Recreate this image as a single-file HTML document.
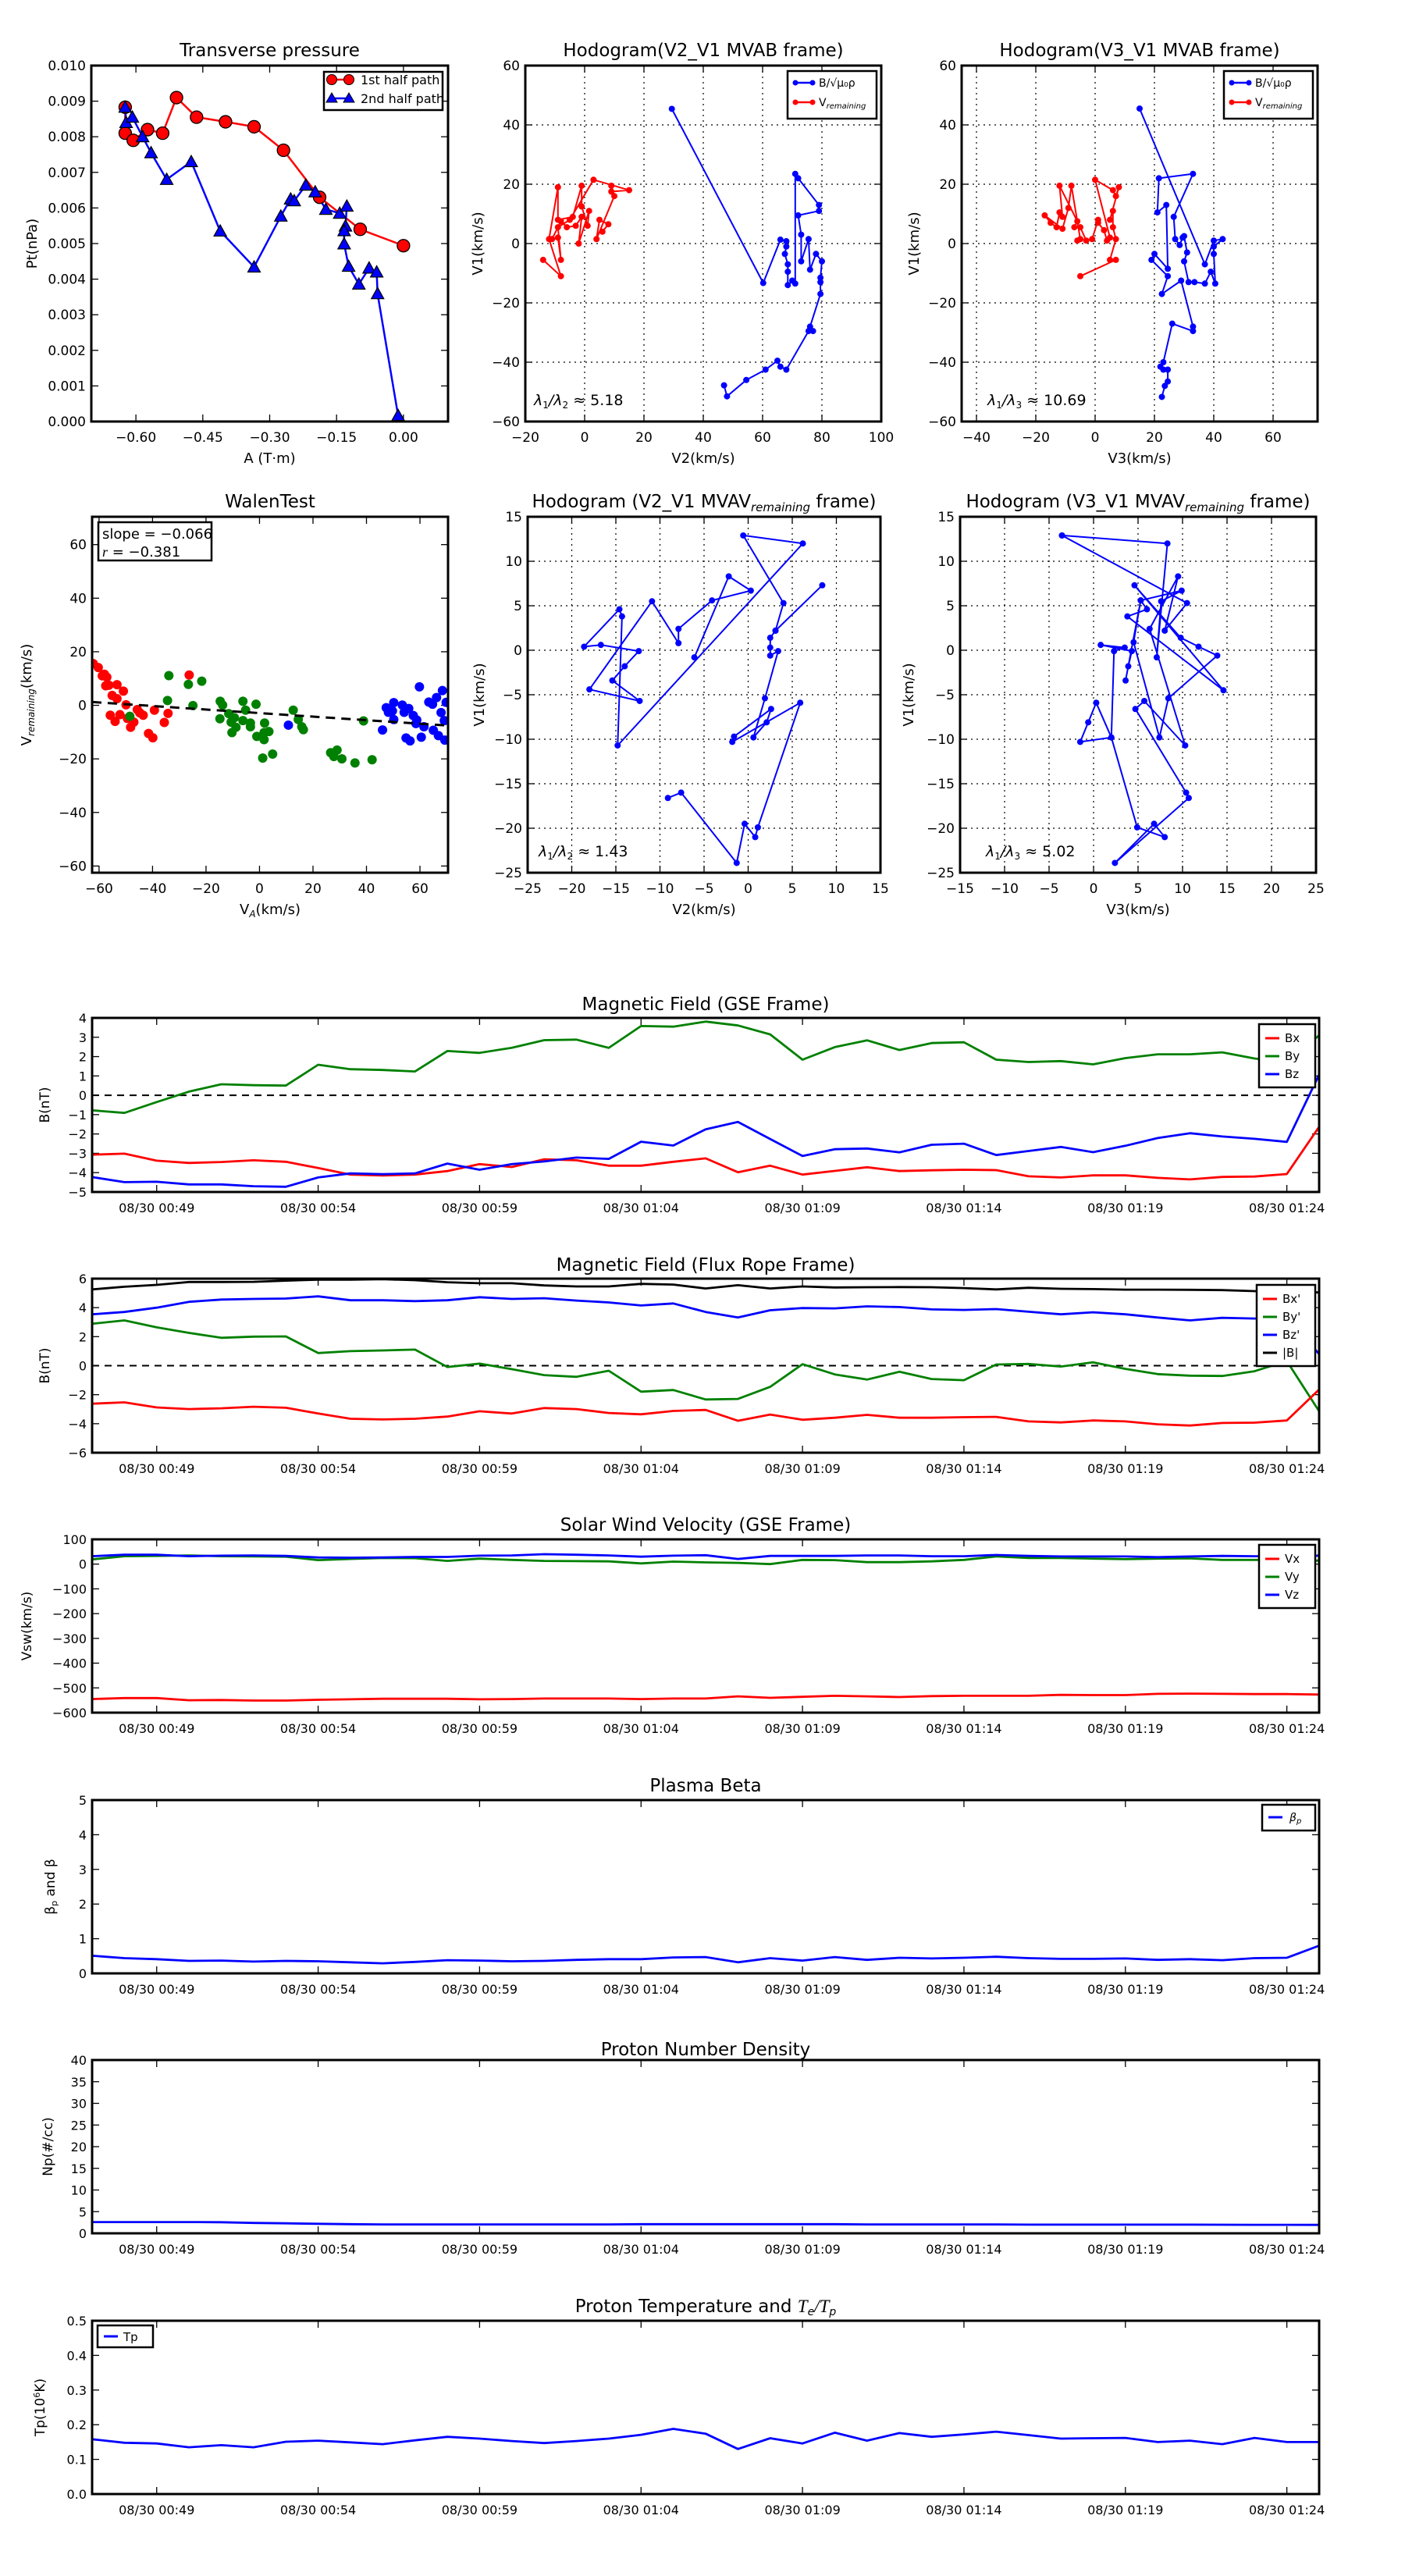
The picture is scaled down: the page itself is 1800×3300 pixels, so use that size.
<!DOCTYPE html>
<html><head><meta charset="utf-8"><title>Flux rope analysis</title>
<style>
html,body{margin:0;padding:0;background:#fff;}
svg{display:block;font-family:"DejaVu Sans","Liberation Sans",sans-serif;}
</style></head>
<body>
<svg id="fig" width="1800" height="3300" viewBox="0 0 1800 3300" xmlns="http://www.w3.org/2000/svg">
<rect width="1800" height="3300" fill="#fff"/>
</svg>
<script>
// ---------- data ----------
const ptRedA=[-0.624,-0.624,-0.606,-0.574,-0.540,-0.509,-0.464,-0.399,-0.335,-0.269,-0.188,-0.097,0];
const ptRedP=[0.00883,0.0081,0.0079,0.0082,0.0081,0.0091,0.00855,0.00842,0.00828,0.00762,0.0063,0.0054,0.00494];
const ptBlueA=[-0.624,-0.622,-0.608,-0.585,-0.566,-0.531,-0.476,-0.411,-0.335,-0.275,-0.253,-0.245,-0.219,-0.198,-0.174,-0.143,-0.127,-0.13,-0.133,-0.133,-0.123,-0.100,-0.077,-0.060,-0.058,-0.012];
const ptBlueP=[0.00883,0.0084,0.00855,0.0080,0.00755,0.0068,0.0073,0.00535,0.00434,0.00577,0.00625,0.0062,0.00664,0.00645,0.00596,0.00585,0.00605,0.00549,0.00536,0.00499,0.00436,0.00386,0.00431,0.0042,0.00359,0.00017];

const h1BlueV2=[29.4,60.2,66,68,68,67.5,68.5,68.5,68.5,70,71,71,72,79,79,72,73,73,75.5,76,78,80,79.5,79.5,79.5,76,77,75.5,68,66,65,61,54.5,48,47];
const h1BlueV1=[45.4,-13.3,1.3,0.8,-1,-3.5,-7,-9.5,-14,-12.5,-13.5,23.5,22,13,11,9.5,3,-6,1.5,-8.8,-3.5,-6,-11.5,-13,-17,-28,-29.5,-29.5,-42.5,-41.5,-39.5,-42.5,-46,-51.5,-47.8];
const h1RedV2=[-14,-8,-12,-9,-9,-4,-1,-1,1,1.5,-2,-1,-3,-6,-8,-11,-9,-8,-9,-5,3,15,9,9,10,4,5,8,6];
const h1RedV1=[-5.5,-11,1.5,19,8,9,19.5,12.5,6,11,0,9,6,5.5,7.5,1.5,2,-5.5,5.5,8,21.5,18,17.5,19.5,16,1.5,8,6.5,4];
const h2BlueV3=[15,37,40,43,40,40,40.5,39,37,33.5,31.5,30,31,30,29.5,28.5,27,26.5,33,21.5,21,24,24.5,20,19,24.5,22.5,29,33,33,26,23,22,23,24.5,24.5,23.5,22.5];
const h2BlueV1=[45.5,-7,1,1.5,-1,-3.5,-13.5,-9.5,-13.5,-13,-13,-6,-3,2.5,2,-0.5,1.5,9,23.5,22,10.5,13,-8.5,-3.5,-5.5,-11,-17,-12.5,-28,-29.5,-27,-40,-41.5,-42.5,-42.5,-46.5,-48,-51.7];
const h2RedV3=[-5,7,5,7,6,6,5,8,7,6,0,5,4,3,1,1,-1,-3,-5,-7,-6,-12,-11,-12,-13,-15,-17,-11,-9,-8,-5,-6];
const h2RedV1=[-11,-5.5,-5.5,1.5,5.5,11,8,19,16,18,21.5,2,1,4.5,7,8,1.5,1,5.5,5.5,7.5,19.5,9,10.5,5.5,7,9.5,5,12,19.5,1.5,1];

const walenRedX=[-62.2,-60.3,-58,-57.1,-58.8,-57.5,-56.3,-53.3,-55.1,-53.3,-50.9,-49.9,-55.8,-54,-52.2,-49.4,-48.2,-47,-45.7,-44.8,-43.5,-39.3,-41.5,-39.9,-35.6,-34.2,-26.3];
const walenRedY=[15.6,14.1,11.6,10.5,11,7.3,7.5,7.7,3.7,2.5,5.3,0.2,-3.7,-6,-3.5,-4.9,-8.2,-6.3,-1.6,-2.8,-3.7,-1.8,-10.5,-12.1,-6.4,-3,11.3];
const walenGreenX=[-33.9,-34.4,-26.6,-21.6,-24.9,-48.5,-14.7,-13.8,-14.8,-11.5,-10.6,-9.4,-10.3,-8.8,-6.2,-5.2,-6.2,-3.4,-3.4,-1.3,-1,1.9,1.7,1.7,3.5,1.2,4.9,12.6,14.5,15.8,16.4,26.6,29,27.8,30.8,35.7,38.9,42.1];
const walenGreenY=[11.1,1.8,7.8,9,-0.1,-4.1,1.5,0.1,-5,-3.1,-6.3,-4.6,-10.2,-8.2,1.5,-1.8,-5.7,-6.6,-8,0.4,-11.6,-6.6,-10.2,-12.8,-9.8,-19.7,-18.2,-1.8,-5.3,-8,-9.1,-17.7,-16.7,-19.1,-20,-21.5,-5.8,-20.3];
const walenBlueX=[10.8,46,47.4,48.2,50.2,50.2,49.7,53.4,54.1,54.8,56.3,55.8,57.5,58.5,58.8,59.8,60.5,61.5,63.3,64.7,65,66.2,66.9,67.9,68.4,69.1,69.3,69.8];
const walenBlueY=[-7.4,-9.2,-0.9,-2.6,1,-5.3,-2.1,0.1,-2.6,-12.2,-13.3,-1.2,-3.8,-6.8,-5.5,6.9,-11.9,-8,1.2,0.4,-9.3,2.9,-11.3,-2.7,5.5,-5.7,-13,1.1];
const walenSlope=-0.066, walenIntercept=-2.9;

const h3V2=[-9.1,-7.6,-1.3,-0.4,0.8,1.1,5.9,-1.8,-1.6,2.6,2.1,0.6,1.9,3.4,2.5,2.5,2.5,3.1,8.4,3.1,4,-0.56,6.2,-14.8,-14.3,-14.6,-18.6,-16.7,-12.4,-14,-15.4,-12.3,-18,-10.9,-7.9,-7.9,-4.1,0.3,-2.2,-6.1];
const h3V1=[-16.6,-16,-23.9,-19.5,-21,-19.9,-5.9,-10.3,-9.7,-6.6,-8.1,-9.8,-5.4,-0.1,-0.6,0.3,1.4,2.2,7.3,2.2,5.3,12.9,12,-10.7,3.8,4.6,0.4,0.6,-0.1,-1.8,-3.4,-5.7,-4.4,5.5,0.8,2.4,5.6,6.7,8.3,-0.8];
const h4V3=[-3.55,8.3,7.1,7.6,9.9,5.3,4.5,7.4,8.4,13.9,11.8,9.8,4.6,14.6,3.8,6,5.3,3.6,3.9,4.3,0.8,3.5,2.3,2,-1.5,-0.6,0.3,2,4.9,8,6.8,2.4,10.7,10.4,4.7,5.7,10.3,6.3,9.5,8,10.5,-3.55];
const h4V1=[12.9,12,-0.8,5.5,6.7,5.6,0.9,-9.8,-5.4,-0.6,0.4,1.4,7.3,-4.5,3.8,4.6,5.6,-3.4,-1.8,-0.1,0.6,0.3,-0.1,-9.8,-10.3,-8.1,-5.9,-9.8,-19.9,-21,-19.5,-23.9,-16.6,-16,-6.6,-5.7,-10.7,2.4,8.3,2.2,5.3,12.9];

// time series (one sample per minute, minute 0 = 00:47)
const bx=[-3.07,-3.02,-3.38,-3.5,-3.45,-3.36,-3.44,-3.76,-4.1,-4.15,-4.1,-3.92,-3.56,-3.71,-3.31,-3.36,-3.64,-3.64,-3.44,-3.26,-3.98,-3.64,-4.1,-3.91,-3.72,-3.92,-3.88,-3.85,-3.87,-4.19,-4.25,-4.14,-4.14,-4.27,-4.35,-4.22,-4.2,-4.07,-1.63];
const by=[-0.78,-0.91,-0.35,0.19,0.57,0.52,0.5,1.58,1.35,1.31,1.23,2.29,2.19,2.46,2.85,2.88,2.45,3.58,3.55,3.81,3.61,3.15,1.84,2.49,2.84,2.34,2.70,2.74,1.84,1.72,1.77,1.6,1.92,2.12,2.12,2.22,1.9,1.7,3.1];
const bz=[-4.23,-4.49,-4.47,-4.61,-4.61,-4.7,-4.73,-4.25,-4.04,-4.08,-4.04,-3.53,-3.85,-3.56,-3.42,-3.22,-3.29,-2.4,-2.6,-1.76,-1.38,-2.26,-3.14,-2.79,-2.75,-2.95,-2.56,-2.5,-3.09,-2.88,-2.67,-2.94,-2.61,-2.21,-1.96,-2.13,-2.25,-2.41,1.07];
const bxp=[-2.62,-2.53,-2.88,-2.99,-2.94,-2.83,-2.9,-3.3,-3.66,-3.71,-3.66,-3.51,-3.14,-3.3,-2.92,-2.99,-3.26,-3.35,-3.12,-3.05,-3.8,-3.37,-3.73,-3.59,-3.39,-3.59,-3.59,-3.55,-3.53,-3.84,-3.91,-3.78,-3.84,-4.04,-4.13,-3.95,-3.93,-3.78,-1.64];
const byp=[2.89,3.12,2.64,2.26,1.92,2.0,2.02,0.87,1.0,1.05,1.11,-0.09,0.14,-0.24,-0.65,-0.77,-0.35,-1.79,-1.68,-2.33,-2.29,-1.46,0.1,-0.6,-0.96,-0.42,-0.92,-1.0,0.08,0.12,-0.06,0.23,-0.22,-0.58,-0.69,-0.71,-0.38,0.32,-3.14];
const bzp=[3.54,3.7,4.0,4.4,4.56,4.6,4.63,4.78,4.51,4.51,4.45,4.51,4.72,4.6,4.65,4.49,4.36,4.15,4.29,3.7,3.32,3.82,3.97,3.95,4.09,4.04,3.88,3.84,3.9,3.72,3.54,3.68,3.54,3.32,3.12,3.3,3.25,3.3,0.8];
const btot=[5.26,5.44,5.57,5.77,5.77,5.78,5.86,5.93,5.93,5.96,5.89,5.75,5.68,5.68,5.53,5.46,5.46,5.64,5.59,5.32,5.55,5.32,5.46,5.39,5.41,5.42,5.41,5.35,5.26,5.37,5.3,5.28,5.24,5.24,5.23,5.21,5.14,5.1,5.05];
const vx=[-545,-541,-541,-550,-549,-551,-551,-548,-546,-544,-544,-544,-546,-545,-543,-543,-543,-545,-543,-543,-534,-540,-536,-532,-534,-537,-533,-532,-532,-532,-528,-529,-529,-524,-523,-524,-525,-525,-527];
const vy=[19,32,33,35,32,31,30,16,21,25,24,13,22,17,13,12,11,3,10,7,5,0,17,16,8,8,11,17,31,25,25,22,20,22,23,17,17,17,14];
const vz=[32,38,38,32,34,35,33,27,26,27,29,29,34,35,40,38,35,30,34,36,21,33,33,33,35,35,32,32,37,33,31,31,31,28,31,33,32,32,34];
const betaP=[0.51,0.44,0.41,0.36,0.37,0.34,0.36,0.35,0.32,0.29,0.33,0.38,0.37,0.35,0.36,0.39,0.41,0.41,0.46,0.47,0.32,0.44,0.37,0.47,0.39,0.45,0.43,0.45,0.48,0.44,0.42,0.42,0.43,0.39,0.41,0.38,0.44,0.45,0.8];
const np=[2.6,2.6,2.6,2.6,2.55,2.4,2.3,2.2,2.1,2.05,2.05,2.05,2.05,2.05,2.05,2.05,2.05,2.1,2.1,2.1,2.1,2.1,2.1,2.1,2.05,2.05,2.05,2.05,2.05,2.0,2.0,2.0,2.0,2.0,2.0,1.98,1.97,1.96,1.95];
const tp=[0.158,0.148,0.146,0.135,0.141,0.135,0.151,0.154,0.149,0.144,0.155,0.165,0.160,0.153,0.147,0.153,0.160,0.171,0.188,0.174,0.130,0.161,0.146,0.177,0.154,0.176,0.165,0.172,0.180,0.170,0.160,0.161,0.162,0.150,0.154,0.144,0.162,0.150,0.150];
const timeTickMin=[2,7,12,17,22,27,32,37];
const timeTickLabels=["08/30 00:49","08/30 00:54","08/30 00:59","08/30 01:04","08/30 01:09","08/30 01:14","08/30 01:19","08/30 01:24"];

// ---------- helpers ----------
const NS="http://www.w3.org/2000/svg";
const fig=document.getElementById('fig');
function E(tag,parent){const e=document.createElementNS(NS,tag);(parent||fig).appendChild(e);return e;}
function A(e,o){for(const k in o)e.setAttribute(k,o[k]);return e;}
function lin(d0,d1,r0,r1){return v=>r0+(v-d0)*(r1-r0)/(d1-d0);}
function fmtMinus(s){return String(s).replace('-','\u2212');}
function txt(parent,x,y,s,size,anchor,name,extra){
  const t=E('text',parent);A(t,{x:x,y:y,'font-size':size,'text-anchor':anchor||'middle'});
  if(extra)A(t,extra);
  t.textContent=s;
  
  
  return t;
}
function axes(name,L,T,R,B,xd,yd,xt,yt,xfmt,yfmt,grid,title,xlabel,ylabel,titleY,xlabY,ylabX,tickSize){
  const g=E('g');
  
  
  const sx=lin(xd[0],xd[1],L,R), sy=lin(yd[0],yd[1],B,T);
  const ts=tickSize||17;
  // gridlines
  if(grid){
    xt.forEach(v=>{const l=E('line',g);A(l,{x1:sx(v),x2:sx(v),y1:T,y2:B,stroke:'#000','stroke-width':1.2,'stroke-dasharray':'2,5'});
      
      });
    yt.forEach(v=>{const l=E('line',g);A(l,{x1:L,x2:R,y1:sy(v),y2:sy(v),stroke:'#000','stroke-width':1.2,'stroke-dasharray':'2,5'});
      
      });
  }
  // ticks
  xt.forEach((v,i)=>{
    const x=sx(v);
    const a=E('line',g);A(a,{x1:x,x2:x,y1:B,y2:B-9,stroke:'#000','stroke-width':1.3});
    
    
    const b=E('line',g);A(b,{x1:x,x2:x,y1:T,y2:T+9,stroke:'#000','stroke-width':1.3});
    
    
    txt(g,x,B+26,xfmt(v,i),ts,'middle','x-tick-label');
  });
  yt.forEach((v,i)=>{
    const y=sy(v);
    const a=E('line',g);A(a,{x1:L,x2:L+9,y1:y,y2:y,stroke:'#000','stroke-width':1.3});
    
    
    const b=E('line',g);A(b,{x1:R,x2:R-9,y1:y,y2:y,stroke:'#000','stroke-width':1.3});
    
    
    txt(g,L-7,y+6,yfmt(v,i),ts,'end','y-tick-label');
  });
  if(title) txt(g,(L+R)/2,titleY,title,23,'middle','chart-title');
  if(xlabel) txt(g,(L+R)/2,xlabY,xlabel,18,'middle','x-axis-title');
  if(ylabel){const t=txt(g,ylabX,(T+B)/2,ylabel,18,'middle','y-axis-title');t.setAttribute('transform',`rotate(-90 ${ylabX} ${(T+B)/2})`);}
  const clip=E('clipPath',g);const cid='c'+Math.round(L)+'_'+Math.round(T);A(clip,{id:cid});
  
  
  const cr=E('rect',clip);A(cr,{x:L,y:T,width:R-L,height:B-T});
  
  
  const data=E('g',g);A(data,{'clip-path':`url(#${cid})`});
  
  
  return {g,data,sx,sy,L,T,R,B};
}
function frame(ax){
  const r=E('rect',ax.g);A(r,{x:ax.L,y:ax.T,width:ax.R-ax.L,height:ax.B-ax.T,fill:'none',stroke:'#000','stroke-width':3});
  
  
}
function path(ax,xs,ys,color,w,name,dash){
  const p=E('path',ax.data);
  let d='';xs.forEach((x,i)=>{d+=(i?'L':'M')+ax.sx(x).toFixed(1)+','+ax.sy(ys[i]).toFixed(1);});
  A(p,{d:d,fill:'none',stroke:color,'stroke-width':w,'stroke-linejoin':'round'});
  if(dash)p.setAttribute('stroke-dasharray',dash);
  
  
  return p;
}
function dots(ax,xs,ys,color,r,name,stroke){
  xs.forEach((x,i)=>{
    const c=E('circle',ax.data);A(c,{cx:ax.sx(x),cy:ax.sy(ys[i]),r:r,fill:color});
    if(stroke)A(c,{stroke:stroke,'stroke-width':1.3});
    
    
  });
}
function tris(ax,xs,ys,color,s,name){
  xs.forEach((x,i)=>{
    const cx=ax.sx(x),cy=ax.sy(ys[i]);
    const p=E('polygon',ax.data);A(p,{points:`${cx},${cy-s} ${cx-s},${cy+s*0.8} ${cx+s},${cy+s*0.8}`,fill:color,stroke:'#000','stroke-width':1.2});
    
    
  });
}
function legendBox(parent,x,y,w,h,name){
  const r=E('rect',parent);A(r,{x:x,y:y,width:w,height:h,fill:'#fff',stroke:'#000','stroke-width':2.5});
  
  
}
function legLine(parent,x1,x2,y,color,name,w){
  const l=E('line',parent);A(l,{x1:x1,x2:x2,y1:y,y2:y,stroke:color,'stroke-width':w||3});
  
  
}
const f2=v=>fmtMinus(v.toFixed(2));
const f0=v=>fmtMinus(String(v));

// ---------- Transverse pressure ----------
(function(){
  const ax=axes('transverse-pressure-chart',117,84,574,540,[-0.7,0.1],[0,0.01],[-0.6,-0.45,-0.3,-0.15,0],[0,0.001,0.002,0.003,0.004,0.005,0.006,0.007,0.008,0.009,0.01],
    f2,v=>v.toFixed(3),false,'Transverse pressure','A (T\u00b7m)','Pt(nPa)',72,593,47,17);
  path(ax,ptRedA,ptRedP,'#f00',2.5,'first-half-path-line');
  path(ax,ptBlueA,ptBlueP,'#00f',2.5,'second-half-path-line');
  dots(ax,ptRedA,ptRedP,'#f00',8,'first-half-point','#000');
  tris(ax,ptBlueA,ptBlueP,'#00f',8,'second-half-point');
  frame(ax);
  const g=ax.g;
  legendBox(g,415,92,152,49,'pressure-legend');
  legLine(g,425,447,102,'#f00','legend-line-first-half',2.5);
  const c1=E('circle',g);A(c1,{cx:425,cy:102,r:6.5,fill:'#f00',stroke:'#000','stroke-width':1});
  
  
  const c2=E('circle',g);A(c2,{cx:447,cy:102,r:6.5,fill:'#f00',stroke:'#000','stroke-width':1});
  
  
  txt(g,462,108,'1st half path',16,'start','legend-entry-first-half');
  legLine(g,425,447,126,'#00f','legend-line-second-half',2.5);
  [425,447].forEach(x=>{const p=E('polygon',g);A(p,{points:`${x},${119} ${x-7},${131} ${x+7},${131}`,fill:'#00f',stroke:'#000','stroke-width':1});
    
    });
  txt(g,462,132,'2nd half path',16,'start','legend-entry-second-half');
})();

// ---------- hodogram legend ----------
function hodoLegend(g,x,name){
  legendBox(g,x,91,114,61,name);
  legLine(g,x+9,x+33,106,'#00f','legend-line-alfven',2.5);
  [x+10,x+32].forEach(cx=>{const c=E('circle',g);A(c,{cx:cx,cy:106,r:3.5,fill:'#00f'});
    
    });
  txt(g,x+40,111,'B/\u221a\u03bc\u2080\u03c1',14,'start','legend-entry-alfven');
  legLine(g,x+9,x+33,131,'#f00','legend-line-v-remaining',2.5);
  [x+10,x+32].forEach(cx=>{const c=E('circle',g);A(c,{cx:cx,cy:131,r:3.5,fill:'#f00'});
    
    });
  const t=txt(g,x+40,136,'V',14,'start','legend-entry-v-remaining');
  const s=E('tspan',t);A(s,{'font-size':10,'font-style':'italic',dy:3});s.textContent='remaining';
}
function lambdaText(g,x,y,a,b,val){
  const t=txt(g,x,y,'',19,'start','eigenvalue-ratio');
  const parts=[['\u03bb','i',0],['1','s',4],['/\u03bb','i',-4],[b,'s',4],[' \u2248 '+val,'n',-4]];
  parts.forEach(p=>{const s=E('tspan',t);s.textContent=p[0];
    if(p[1]==='i')A(s,{'font-style':'italic'});
    if(p[1]==='s')A(s,{'font-size':12});
    A(s,{dy:p[2]});});
}
// ---------- Hodogram V2_V1 MVAB ----------
(function(){
  const ax=axes('hodogram-v2-v1-mvab',673,84,1129,540,[-20,100],[-60,60],[-20,0,20,40,60,80,100],[-60,-40,-20,0,20,40,60],
    f0,f0,true,'Hodogram(V2_V1 MVAB frame)','V2(km/s)','V1(km/s)',72,593,618,17);
  path(ax,h1BlueV2,h1BlueV1,'#00f',2,'alfven-velocity-path');
  dots(ax,h1BlueV2,h1BlueV1,'#00f',4,'alfven-velocity-point');
  path(ax,h1RedV2,h1RedV1,'#f00',2,'v-remaining-path');
  dots(ax,h1RedV2,h1RedV1,'#f00',4,'v-remaining-point');
  frame(ax);
  hodoLegend(ax.g,1009,'hodogram-v2-legend');
  lambdaText(ax.g,684,519,'1','2','5.18');
})();
// ---------- Hodogram V3_V1 MVAB ----------
(function(){
  const ax=axes('hodogram-v3-v1-mvab',1232,84,1688,540,[-45,75],[-60,60],[-40,-20,0,20,40,60],[-60,-40,-20,0,20,40,60],
    f0,f0,true,'Hodogram(V3_V1 MVAB frame)','V3(km/s)','V1(km/s)',72,593,1177,17);
  path(ax,h2BlueV3,h2BlueV1,'#00f',2,'alfven-velocity-path');
  dots(ax,h2BlueV3,h2BlueV1,'#00f',4,'alfven-velocity-point');
  path(ax,h2RedV3,h2RedV1,'#f00',2,'v-remaining-path');
  dots(ax,h2RedV3,h2RedV1,'#f00',4,'v-remaining-point');
  frame(ax);
  hodoLegend(ax.g,1568,'hodogram-v3-legend');
  lambdaText(ax.g,1265,519,'1','3','10.69');
})();
// ---------- Walen test ----------
(function(){
  const ax=axes('walen-test-chart',118,662,574,1118,[-62.6,70.5],[-62.5,70.4],[-60,-40,-20,0,20,40,60],[-60,-40,-20,0,20,40,60],
    f0,f0,false,'WalenTest','','',650,0,0,17);
  const xl=txt(ax.g,346,1171,'V',18,'middle','x-axis-title');
  const xs=E('tspan',xl);A(xs,{'font-size':12,'font-style':'italic',dy:4});xs.textContent='A';
  const xs2=E('tspan',xl);A(xs2,{dy:-4});xs2.textContent='(km/s)';
  const yl=txt(ax.g,40,890,'V',18,'middle','y-axis-title');
  const ys=E('tspan',yl);A(ys,{'font-size':12,'font-style':'italic',dy:4});ys.textContent='remaining';
  const ys2=E('tspan',yl);A(ys2,{dy:-4});ys2.textContent='(km/s)';
  yl.setAttribute('transform','rotate(-90 40 890)');
  dots(ax,walenRedX,walenRedY,'#f00',6,'walen-point-red');
  dots(ax,walenGreenX,walenGreenY,'#008000',6,'walen-point-green');
  dots(ax,walenBlueX,walenBlueY,'#00f',6,'walen-point-blue');
  const fx=[-62.6,70.5], fy=fx.map(v=>walenSlope*v+walenIntercept);
  path(ax,fx,fy,'#000',3,'walen-fit-line','12,8');
  frame(ax);
  legendBox(ax.g,126,669,145,49,'walen-stats-box');
  txt(ax.g,131,690,'slope = \u22120.066',18,'start','walen-slope-label');
  const r=txt(ax.g,131,713,'',18,'start','walen-r-label');
  const r1=E('tspan',r);A(r1,{'font-style':'italic','font-family':'"Liberation Serif",serif'});r1.textContent='r';
  const r2=E('tspan',r);r2.textContent=' = \u22120.381';
})();
function remTitle(g,x,y,pre){
  const t=txt(g,x,y,pre,23,'middle','chart-title');
  const s=E('tspan',t);A(s,{'font-size':15,'font-style':'italic',dy:5});s.textContent='remaining';
  const s2=E('tspan',t);A(s2,{dy:-5});s2.textContent=' frame)';
}
// ---------- Hodogram row 2 ----------
(function(){
  const ax=axes('hodogram-v2-v1-mvav',676,662,1128,1118,[-25,15],[-25,15],[-25,-20,-15,-10,-5,0,5,10,15],[-25,-20,-15,-10,-5,0,5,10,15],
    f0,f0,true,'','V2(km/s)','V1(km/s)',0,1171,620,17);
  remTitle(ax.g,902,650,'Hodogram (V2_V1 MVAV');
  path(ax,h3V2,h3V1,'#00f',2,'alfven-velocity-path');
  dots(ax,h3V2,h3V1,'#00f',4,'alfven-velocity-point');
  frame(ax);
  lambdaText(ax.g,690,1097,'1','2','1.43');
})();
(function(){
  const ax=axes('hodogram-v3-v1-mvav',1230,662,1686,1118,[-15,25],[-25,15],[-15,-10,-5,0,5,10,15,20,25],[-25,-20,-15,-10,-5,0,5,10,15],
    f0,f0,true,'','V3(km/s)','V1(km/s)',0,1171,1170,17);
  remTitle(ax.g,1458,650,'Hodogram (V3_V1 MVAV');
  path(ax,h4V3,h4V1,'#00f',2,'alfven-velocity-path');
  dots(ax,h4V3,h4V1,'#00f',4,'alfven-velocity-point');
  frame(ax);
  lambdaText(ax.g,1263,1097,'1','3','5.02');
})();

// ---------- time series ----------
const minutes=bx.map((_,i)=>i);
function tsPanel(name,T,B,yd,yt,yfmt,title,titleY,ylabel,ylabX,series,zero){
  const ax=axes(name,118,T,1690,B,[0,38],yd,timeTickMin,yt,(v,i)=>timeTickLabels[i],yfmt,false,title,'','',titleY,0,0,16);
  if(ylabel){const t=txt(ax.g,ylabX,(T+B)/2,ylabel,17,'middle','y-axis-title');t.setAttribute('transform',`rotate(-90 ${ylabX} ${(T+B)/2})`);}
  if(zero){path(ax,[0,38],[0,0],'#000',2,'zero-reference-line','9,7');}
  series.forEach(s=>path(ax,minutes,s.d,s.c,2.8,s.n));
  frame(ax);
  return ax;
}
function tsLegend(g,x,y,w,entries){
  legendBox(g,x,y,w,entries.length*23+12,'series-legend');
  entries.forEach((e,i)=>{
    const yy=y+18+i*23;
    legLine(g,x+8,x+26,yy,e.c,'legend-line-'+e.n,3);
    txt(g,x+33,yy+5,e.l,15,'start','legend-entry-'+e.n);
  });
}
(function(){
  const ax=tsPanel('magnetic-field-gse-chart',1304,1527,[-5,4],[-5,-4,-3,-2,-1,0,1,2,3,4],f0,'Magnetic Field (GSE Frame)',1294,'B(nT)',63,
    [{d:bx,c:'#f00',n:'bx-line'},{d:by,c:'#008000',n:'by-line'},{d:bz,c:'#00f',n:'bz-line'}],true);
  tsLegend(ax.g,1613,1312,72,[{c:'#f00',n:'bx',l:'Bx'},{c:'#008000',n:'by',l:'By'},{c:'#00f',n:'bz',l:'Bz'}]);
})();
(function(){
  const ax=tsPanel('magnetic-field-flux-rope-chart',1638,1861,[-6,6],[-6,-4,-2,0,2,4,6],f0,'Magnetic Field (Flux Rope Frame)',1628,'B(nT)',63,
    [{d:btot,c:'#000',n:'b-total-line'},{d:bzp,c:'#00f',n:'bz-prime-line'},{d:byp,c:'#008000',n:'by-prime-line'},{d:bxp,c:'#f00',n:'bx-prime-line'}],true);
  tsLegend(ax.g,1610,1646,75,[{c:'#f00',n:'bx-prime',l:"Bx'"},{c:'#008000',n:'by-prime',l:"By'"},{c:'#00f',n:'bz-prime',l:"Bz'"},{c:'#000',n:'b-total',l:'|B|'}]);
})();
(function(){
  const ax=tsPanel('solar-wind-velocity-chart',1972,2194,[-600,100],[-600,-500,-400,-300,-200,-100,0,100],f0,'Solar Wind Velocity (GSE Frame)',1961,'Vsw(km/s)',40,
    [{d:vx,c:'#f00',n:'vx-line'},{d:vy,c:'#008000',n:'vy-line'},{d:vz,c:'#00f',n:'vz-line'}],false);
  tsLegend(ax.g,1613,1979,72,[{c:'#f00',n:'vx',l:'Vx'},{c:'#008000',n:'vy',l:'Vy'},{c:'#00f',n:'vz',l:'Vz'}]);
})();
(function(){
  const ax=tsPanel('plasma-beta-chart',2306,2528,[0,5],[0,1,2,3,4,5],f0,'Plasma Beta',2295,'',0,
    [{d:betaP,c:'#00f',n:'beta-p-line'}],false);
  const t=txt(ax.g,70,2417,'\u03b2',17,'middle','y-axis-title');
  const s=E('tspan',t);A(s,{'font-size':11,dy:3});s.textContent='p';
  const s2=E('tspan',t);A(s2,{dy:-3});s2.textContent=' and \u03b2';
  t.setAttribute('transform','rotate(-90 70 2417)');
  legendBox(ax.g,1617,2312,68,33,'beta-legend');
  legLine(ax.g,1625,1643,2328,'#00f','legend-line-beta-p',3);
  const l=txt(ax.g,1652,2333,'\u03b2',14,'start','legend-entry-beta-p',{'font-style':'italic'});
  const ls=E('tspan',l);A(ls,{'font-size':10,dy:3});ls.textContent='p';
})();
(function(){
  tsPanel('proton-density-chart',2639,2861,[0,40],[0,5,10,15,20,25,30,35,40],f0,'Proton Number Density',2633,'Np(#/cc)',67,
    [{d:np,c:'#00f',n:'np-line'}],false);
})();
(function(){
  const ax=tsPanel('proton-temperature-chart',2973,3195,[0,0.5],[0,0.1,0.2,0.3,0.4,0.5],v=>v.toFixed(1),'',0,'',0,
    [{d:tp,c:'#00f',n:'tp-line'}],false);
  const t=txt(ax.g,904,2962,'Proton Temperature and ',23,'middle','chart-title');
  const a=E('tspan',t);A(a,{'font-style':'italic','font-family':'"Liberation Serif",serif'});a.textContent='T';
  const b=E('tspan',t);A(b,{'font-size':14,dy:4,'font-style':'italic'});b.textContent='e';
  const c=E('tspan',t);A(c,{dy:-4,'font-style':'italic','font-family':'"Liberation Serif",serif'});c.textContent='/T';
  const d=E('tspan',t);A(d,{'font-size':14,dy:4,'font-style':'italic'});d.textContent='p';
  const yl=txt(ax.g,57,3084,'Tp(10',17,'middle','y-axis-title');
  const y1=E('tspan',yl);A(y1,{'font-size':11,dy:-6});y1.textContent='6';
  const y2=E('tspan',yl);A(y2,{dy:6});y2.textContent='K)';
  yl.setAttribute('transform','rotate(-90 57 3084)');
  legendBox(ax.g,125,2979,71,28,'tp-legend');
  legLine(ax.g,133,151,2993,'#00f','legend-line-tp',3);
  txt(ax.g,158,2999,'Tp',15,'start','legend-entry-tp');
})();
</script>
</body></html>
